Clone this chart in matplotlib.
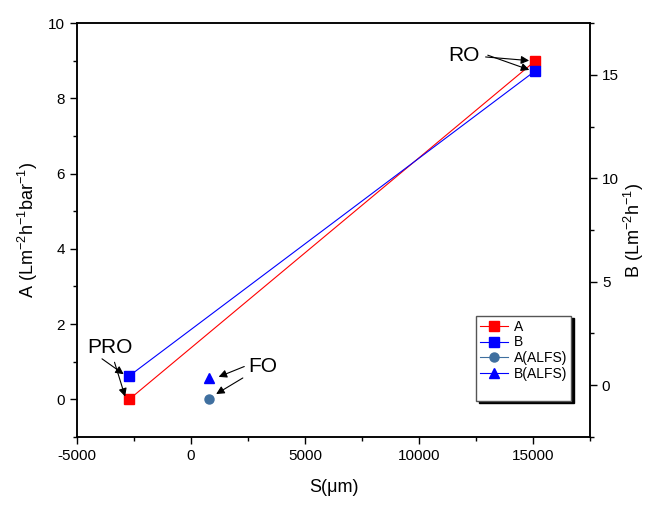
import matplotlib.pyplot as plt
from matplotlib.lines import Line2D
from matplotlib.ticker import MultipleLocator

plt.rcParams['font.family'] = ['Liberation Sans', 'DejaVu Sans']
plt.rcParams['mathtext.fontset'] = 'custom'
plt.rcParams['mathtext.rm'] = 'Liberation Sans'
plt.rcParams['mathtext.it'] = 'Liberation Sans:italic'
plt.rcParams['axes.unicode_minus'] = False

# data
a_x = [-2700, 15100]
a_y = [0.0, 9.0]
b_x = [-2700, 15100]
b_y = [0.45, 15.2]
a_alfs_x = [800]
a_alfs_y = [0.0]
b_alfs_x = [800]
b_alfs_y = [0.35]

fig = plt.figure(figsize=(6.52, 5.05), dpi=100)
ax = fig.add_axes([0.118, 0.135, 0.787, 0.819])
ax2 = ax.twinx()

l1, = ax.plot(a_x, a_y, color='red', lw=0.8, marker='s', ms=6.5, label='A')
l2, = ax2.plot(b_x, b_y, color='blue', lw=0.8, marker='s', ms=6.5, label='B')
l3, = ax.plot(a_alfs_x, a_alfs_y, color='#3f6f9f', lw=0.8, marker='o', ms=6.5, label='A(ALFS)')
l4, = ax2.plot(b_alfs_x, b_alfs_y, color='blue', lw=0.8, marker='^', ms=7.5, label='B(ALFS)')

ax.set_xlim(-5000, 17500)
ax.set_ylim(-1, 10)
ax2.set_ylim(-2.5, 17.5)

ax.xaxis.set_major_locator(MultipleLocator(5000))
ax.xaxis.set_minor_locator(MultipleLocator(2500))
ax.yaxis.set_major_locator(MultipleLocator(2))
ax.yaxis.set_minor_locator(MultipleLocator(1))
ax2.yaxis.set_major_locator(MultipleLocator(5))
ax2.yaxis.set_minor_locator(MultipleLocator(2.5))

for a in (ax, ax2):
    a.tick_params(which='major', direction='out', length=5, width=1, labelsize=11)
    a.tick_params(which='minor', direction='out', length=3, width=1)
    for s in a.spines.values():
        s.set_linewidth(1.1)
ax.tick_params(top=False, which='both')

ax.set_xlabel('S(\u03bcm)', fontsize=13, labelpad=12)
ax.set_ylabel('A (Lm$^{-2}$h$^{-1}$bar$^{-1}$)', fontsize=13, labelpad=6)
ax2.set_ylabel('B (Lm$^{-2}$h$^{-1}$)', fontsize=13, labelpad=2)

arrow = dict(arrowstyle='-|>', color='black', lw=0.8, mutation_scale=12)
# RO
ax.annotate('RO', xy=(b_x[1] - 150, a_y[1]), xytext=(11300, 9.15), fontsize=15,
            va='center', arrowprops=arrow)
ax2.annotate('', xy=(b_x[1] - 150, b_y[1]), xytext=(12900, 16.0), arrowprops=arrow)
# PRO
ax.annotate('PRO', xy=(a_x[0] - 150, a_y[0]), xytext=(-4550, 1.38), fontsize=15,
            va='center', arrowprops=arrow)
ax2.annotate('', xy=(b_x[0] - 150, b_y[0]), xytext=(-4000, 1.35), arrowprops=arrow)
# FO
ax.annotate('FO', xy=(a_alfs_x[0] + 200, a_alfs_y[0] + 0.1), xytext=(2500, 0.88), fontsize=15,
            va='center', arrowprops=arrow)
ax2.annotate('', xy=(b_alfs_x[0] + 300, b_alfs_y[0]), xytext=(2450, 0.95), arrowprops=arrow)

# blank row keeps the empty strip at the bottom of the legend
blank = Line2D([], [], color='none', label=' ')
leg = ax2.legend(handles=[l1, l2, l3, l4, blank], loc='upper left', bbox_to_anchor=(0.778, 0.293),
                 fontsize=10, frameon=True, fancybox=False, shadow={'color': 'black', 'alpha': 1},
                 edgecolor='#555555', framealpha=1, handlelength=2.0, handletextpad=0.4,
                 labelspacing=0.12, borderpad=0.3, borderaxespad=0)
leg.get_frame().set_linewidth(1.0)

fig.savefig('out.png', dpi=100)
